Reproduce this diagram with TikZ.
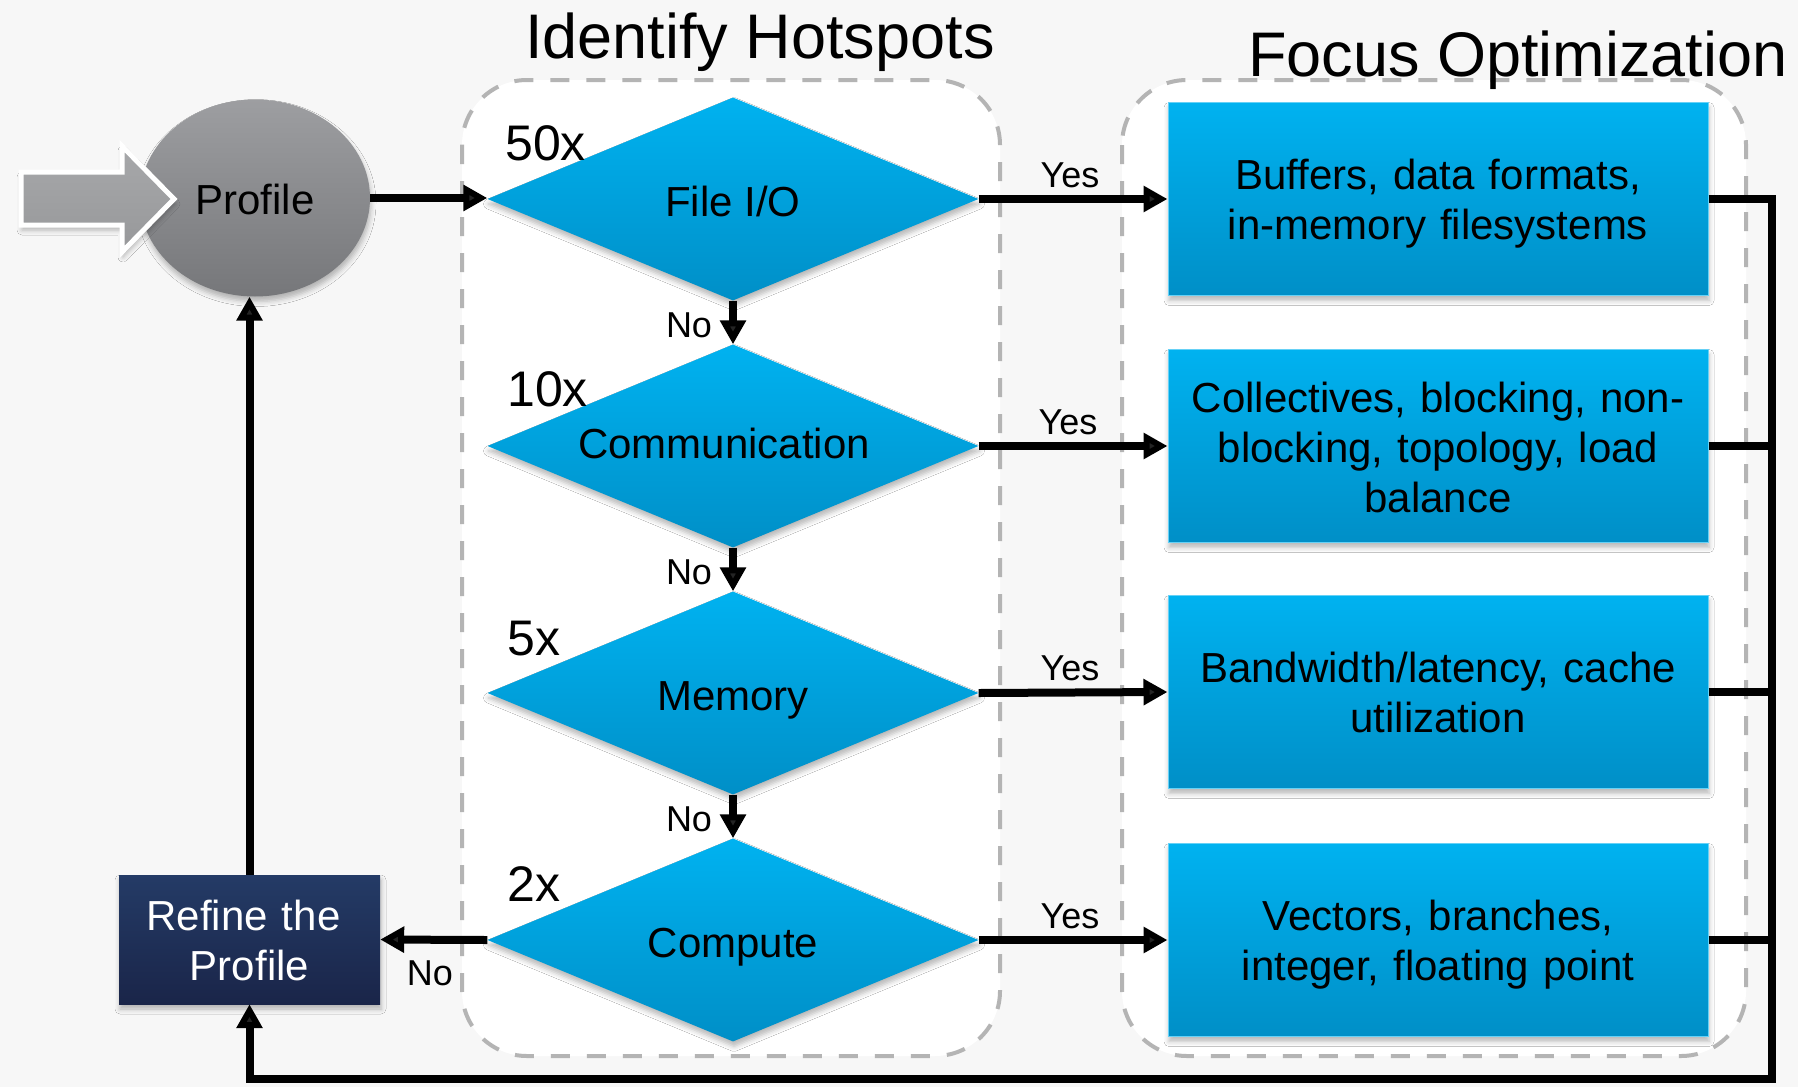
\documentclass[tikz,border=0pt]{standalone}
\usepackage{fontspec}
\setmainfont{Liberation Sans}
\usetikzlibrary{arrows.meta,shapes.geometric,shadows.blur,calc}

\definecolor{bg}{HTML}{F7F7F7}
\definecolor{dashgray}{HTML}{B4B4B4}
\definecolor{bluetop}{HTML}{00B2F0}
\definecolor{bluebot}{HTML}{008FC7}
\definecolor{navytop}{HTML}{243B66}
\definecolor{navybot}{HTML}{1A2549}
\definecolor{greytop}{HTML}{9D9EA1}
\definecolor{greybot}{HTML}{76777A}
\definecolor{arrowtop}{HTML}{A7A8AA}
\definecolor{arrowbot}{HTML}{97989A}

\tikzset{
  txt/.style={font=\fontsize{42}{50}\selectfont},
  lbl/.style={font=\fontsize{36}{43}\selectfont, inner sep=0pt, anchor=base},
  mult/.style={font=\fontsize{50}{60}\selectfont, inner sep=0pt, anchor=base west},
  headline/.style={font=\fontsize{63}{75}\selectfont, inner sep=0pt, anchor=base},
  zone/.style={draw=dashgray, line width=4pt, dash pattern=on 19pt off 17pt,
    fill=white, rounded corners=65pt},
  softshadow/.style={blur shadow={shadow xshift=1pt, shadow yshift=-5pt,
    shadow blur radius=5pt, shadow opacity=28}},
  % single-line labels sit with their baseline 17pt below the centre
  decision/.style={diamond, shape aspect=2.42, inner sep=0pt, minimum width=491pt,
    minimum height=203pt, top color=bluetop, bottom color=bluebot, txt, softshadow,
    text height=34pt, text depth=0pt},
  % two-line blocks: first baseline 9.5pt above the centre
  action/.style={rectangle, inner sep=0pt, minimum width=540pt, minimum height=193pt,
    text width=520pt, align=center, top color=bluetop, bottom color=bluebot,
    draw=bluetop!60!white, line width=1pt, txt, softshadow,
    text height=30pt, text depth=49pt},
  link/.style={line width=8pt, -{Triangle[length=24pt,width=25pt]}},
  bus/.style={line width=8pt},
}

\begin{document}
\begin{tikzpicture}[x=1pt, y=-1pt]
  % canvas
  \useasboundingbox (0,0) rectangle (1798,1087);
  \fill[bg] (0,0) rectangle (1798,1087);

  % dashed zones
  \draw[zone] (462,80) rectangle (1000,1056);
  \draw[zone] (1122,80) rectangle (1746,1056);

  % headings
  \node[headline] (hot) at (760,58) {Identify Hotspots};
  \node[headline] (opt) at (1518,76) {Focus Optimization};

  % profile ellipse and entry arrow
  \node[ellipse, minimum width=230pt, minimum height=197pt, inner sep=0pt,
        top color=greytop, bottom color=greybot, txt, softshadow,
        text height=32pt, text depth=0pt]
        (profile) at (255,198) {Profile};
  \draw[white, line width=5pt, line join=miter, top color=arrowtop,
        bottom color=arrowbot, softshadow]
        (21,172) -- (122,172) -- (122,146) -- (174,199) -- (122,252)
        -- (122,225) -- (21,225) -- cycle;

  % decisions
  \node[decision] (fileio) at (733,199) {File I/O};
  \node[decision, text height=24pt] (comm) at (733,446) {\hspace*{-18pt}Communication};
  \node[decision] (mem)    at (733,693) {Memory};
  \node[decision] (comp)   at (733,940) {Compute};

  % speed-up factors
  \node[mult] (m50) at (505,160) {50x};
  \node[mult] (m10) at (507,406) {10x};
  \node[mult] (m5)  at (507,655) {5x};
  \node[mult] (m2)  at (507,901) {2x};

  % optimization actions
  \node[action] (b1) at (1438,199) {Buffers, data formats,\\ in-memory filesystems};
  \node[action, text depth=98pt] (b2) at (1438,446) {Collectives, blocking, non-\\ blocking, topology, load\\ balance};
  \node[action] (b3) at (1438,692) {Bandwidth/latency, cache\\ utilization};
  \node[action] (b4) at (1438,940) {Vectors, branches,\\ integer, floating point};

  % refine box
  \node[rectangle, minimum width=261pt, minimum height=129pt, inner sep=0pt,
        text width=250pt, align=center, top color=navytop, bottom color=navybot,
        text=white, txt, softshadow, text height=30pt, text depth=49pt]
        (refine) at (249.5,939.5) {\hspace*{-12pt}Refine the\\ Profile};

  % flow
  \draw[link] (profile.east) -- (profile.east -| fileio.west);

  \draw[link] (fileio.south) -- (comm.north);
  \node[lbl] (no1) at (689,337) {No};
  \draw[link] (comm.south) -- (mem.north);
  \node[lbl] (no2) at (689,584) {No};
  \draw[link] (mem.south) -- (comp.north);
  \node[lbl] (no3) at (689,831) {No};

  \draw[link] (fileio.east) -- (b1.west);
  \node[lbl] (y1) at (1070,187) {Yes};
  \draw[link] (comm.east) -- (b2.west);
  \node[lbl] (y2) at (1068,434) {Yes};
  \draw[link] (mem.east) -- (b3.west);
  \node[lbl] (y3) at (1070,680) {Yes};
  \draw[link] (comp.east) -- (b4.west);
  \node[lbl] (y4) at (1070,928) {Yes};

  \draw[link] (comp.west) -- (refine.east);
  \node[lbl] (no4) at (430,985) {No};

  \draw[link] (refine.north) -- (refine.north |- profile.south);

  % feedback bus back to the refine step
  \coordinate (busbot) at (1772,1079);
  \draw[link] (b1.east) -| (busbot) -| (refine.south);
  \draw[bus] (b2.east) -- (b2.east -| busbot);
  \draw[bus] (b3.east) -- (b3.east -| busbot);
  \draw[bus] (b4.east) -- (b4.east -| busbot);
\end{tikzpicture}
\end{document}
